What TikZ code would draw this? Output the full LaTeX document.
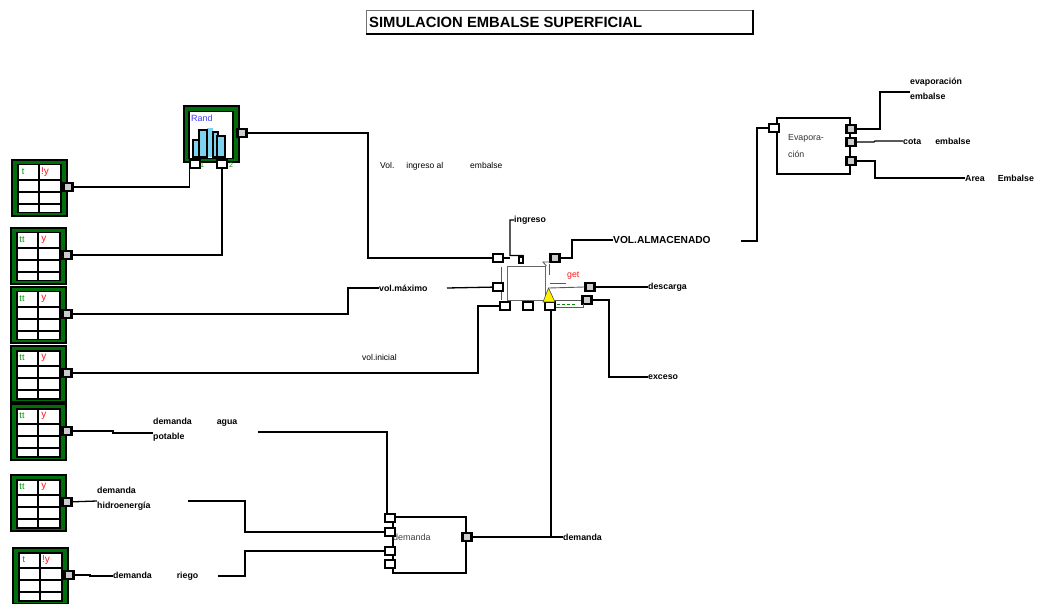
\documentclass[tikz,border=0pt]{standalone}
\usepackage{fontspec}
\setmainfont{Liberation Sans}
\usepackage{xcolor}
\usetikzlibrary{arrows.meta, positioning, calc}
\definecolor{blockgreen}{RGB}{0,110,10}
\definecolor{barblue}{RGB}{125,210,240}
% table block: name, left, top, first and second column heads
\newcommand{\tableblock}[5]{
\node[tabouter, anchor=north west] (#1) at (#2,#3) {};
\node[tabinner, anchor=north west] (#1in) at (#2+6,#3+5) {};
\draw[gridline] (#2+28,#3+5) -- (#2+28,#3+53);
\draw[gridline] (#2+6,#3+21) -- (#2+49,#3+21);
\draw[gridline] (#2+6,#3+33) -- (#2+49,#3+33);
\draw[gridline] (#2+6,#3+45) -- (#2+49,#3+45);
\node[headt] (#1t) at (#2+12,#3+13) {#4};
\node[heady] (#1y) at (#2+34,#3+13) {#5};
\node[outport] (#1out) at (#2+57,#3+28) {};
}
\begin{document}
\begin{tikzpicture}[x=1pt, y=-1pt,
    tabouter/.style={rectangle, draw=black, line width=1.6pt, fill=blockgreen, minimum width=55pt, minimum height=56pt, inner sep=0pt},
    tabinner/.style={rectangle, draw=black, line width=1.5pt, fill=white, minimum width=43pt, minimum height=48pt, inner sep=0pt},
    gridline/.style={black, line width=1.3pt},
    headt/.style={font=\fontsize{9}{9}\selectfont, text=green!60!black, inner sep=0pt},
    heady/.style={font=\fontsize{10}{10}\selectfont, text=red!90!white, inner sep=0pt},
    inport/.style={rectangle, draw=black, line width=1.5pt, fill=white, minimum width=10pt, minimum height=8pt, inner sep=0pt},
    outport/.style={rectangle, draw=black, line width=2.2pt, fill=black!20, minimum width=9pt, minimum height=8pt, inner sep=0pt},
    wire/.style={black, line width=1.3pt},
    thinwire/.style={black!65, line width=0.9pt},
    procbox/.style={rectangle, fill=white, inner sep=0pt, anchor=north west},
    lab/.style={font=\fontsize{8.8}{14.5}\selectfont\bfseries, anchor=west, inner sep=0pt, align=left},
    note/.style={font=\fontsize{8.5}{9}\selectfont, anchor=west, inner sep=0pt, align=left}
]
\useasboundingbox (0,0) rectangle (1037,604);

% title
\node[rectangle, draw=black!55, line width=0.8pt, minimum width=386pt, minimum height=23pt, anchor=north west, inner sep=0pt] (title) at (366,10) {};
\draw[black, line width=1.8pt] (title.north east) -- (title.south east) -- (title.south west);
\node[anchor=west, inner sep=0pt, font=\fontsize{14.8}{15}\selectfont\bfseries] (titletext) at (369,22) {SIMULACION EMBALSE SUPERFICIAL};

% tables on the left
\tableblock{tabA}{11}{159}{t}{!y}
\tableblock{tabB}{10}{227}{tt}{y}
\tableblock{tabC}{10}{286}{tt}{y}
\tableblock{tabD}{10}{345}{tt}{y}
\tableblock{tabE}{10}{403}{tt}{y}
\tableblock{tabF}{10}{474}{tt}{y}
\tableblock{tabG}{12}{547}{t}{!y}

% random block
\node[tabouter, anchor=north west] (rand) at (183,105) {};
\node[rectangle, draw=black, line width=1.5pt, fill=white, minimum width=44pt, minimum height=47pt, inner sep=0pt, anchor=north west] (randin) at (188,111) {};
\fill[barblue] (207,128) rectangle (213,157);
\draw[black, line width=1.2pt, fill=barblue] (193,140) rectangle (199,157);
\draw[black, line width=1.2pt, fill=barblue] (199,130) rectangle (207,157);
\draw[black, line width=1.2pt, fill=barblue] (213,132) rectangle (218,157);
\draw[black, line width=1.2pt, fill=barblue] (217,136) rectangle (225,157);
\node[anchor=west, inner sep=0pt, font=\fontsize{9}{9}\selectfont, text=blue!75!white] (randtext) at (191,118) {Rand};
\node[inport] (randone) at (195,164) {};
\node[inport] (randtwo) at (222,164) {};
\node[outport] (randout) at (242,133) {};
\node[headt, font=\fontsize{7}{7}\selectfont] (randonelab) at (202,165) {1};
\node[headt, font=\fontsize{7}{7}\selectfont] (randtwolab) at (231,165) {2};

% reservoir block
\draw[thinwire] (501,267) -- (501,300);
\node[procbox, draw=black!60, line width=1.4pt, minimum width=38pt, minimum height=34pt] (embalse) at (507,266) {};
\node[inport] (volin) at (498,258) {};
\node[inport] (maxin) at (498,287) {};
\node[inport] (iniin) at (505,306) {};
\node[inport] (midin) at (528,306) {};
\node[inport] (demin) at (550,306) {};
\node[outport] (volout) at (555,258) {};
\node[outport] (desout) at (590,287) {};
\node[outport] (excout) at (587,300) {};
\node[inport, minimum width=4pt, minimum height=6pt] (ingsmall) at (521,260) {};
\draw[thinwire] (embalse.north east) -- (543,262) -- (550,262);
\draw[thinwire] (549,264) -- (549,275);
\draw[thinwire] (550,283) -- (566,283);
\draw[thinwire] (549,288) -- (desout.west);
\draw[thinwire] (553,300) -- (excout.west);
\draw[thinwire] (demin.east |- 0,307) -- (583,307) -- (583,304);
\draw[green!55!black, densely dashed, line width=1pt] (557,305) -- (575,305);
\fill[yellow, draw=black!70, line width=0.6pt] (548.5,288) coordinate (warn) -- (555,302) -- (543,302) -- cycle;
\node[anchor=west, inner sep=0pt, font=\fontsize{8.8}{9}\selectfont, text=red!90!white] (gettext) at (567,276) {get};

% evaporation block
\node[procbox, draw=black, line width=1.6pt, minimum width=73pt, minimum height=56pt] (evap) at (776,117) {};
\node[note, font=\fontsize{8.8}{9}\selectfont, text=black!80] (evaptext) at (788,138) {Evapora-};
\node[note, font=\fontsize{8.8}{9}\selectfont, text=black!80] (evaptextb) at (788,154) {ción};
\node[inport] (evapin) at (774,128) {};
\node[outport] (evapout) at (851,129) {};
\node[outport] (cotaout) at (851,142) {};
\node[outport] (areaout) at (851,161) {};

% demand block
\node[procbox, draw=black, line width=1.6pt, minimum width=73pt, minimum height=56pt] (dem) at (392,516) {};
\node[note, text=black!75, font=\fontsize{9}{9}\selectfont] (demtext) at (393,537) {demanda};
\node[inport] (dema) at (390,518) {};
\node[inport] (demb) at (390,532) {};
\node[inport] (demc) at (390,551) {};
\node[inport] (demd) at (390,564) {};
\node[outport] (demout) at (467,537) {};

% labels
\node[note] (volingtext) at (380,166) {Vol.\hspace{12pt}ingreso al\hspace{27pt}embalse};
\node[note] (volinitext) at (362,357) {vol.inicial};
\node[lab] (ingreso) at (514,220) {ingreso};
\node[lab, font=\fontsize{10.2}{14.5}\selectfont\bfseries] (volalm) at (613,240) {VOL.ALMACENADO};
\node[lab] (descarga) at (648,287) {descarga};
\node[lab] (exceso) at (648,377) {exceso};
\node[lab] (volmax) at (379,288) {vol.máximo};
\node[lab] (demlab) at (563,537) {demanda};
\node[lab, anchor=north west] (agua) at (153,418) {demanda\hspace{25pt}agua\\potable};
\node[lab, anchor=north west] (hidro) at (97,487) {demanda\\hidroenergía};
\node[lab] (riego) at (113,576) {demanda\hspace{25pt}riego};
\node[lab, anchor=north west] (evapo) at (910,78) {evaporación\\embalse};
\node[lab] (cota) at (903,141) {cota\hspace{14pt}embalse};
\node[lab] (area) at (965,178) {Area\hspace{13pt}Embalse};

% free ends
\coordinate (maxend) at (447,288);
\coordinate (aguaend) at (258,432);
\coordinate (hidroend) at (188,501);
\coordinate (riegoend) at (218,576);
\coordinate (volend) at (741,241);

% wires
\draw[wire] (tabAout) -| (randone.west);
\draw[wire] (tabBout) -| (randtwo);
\draw[wire] (randout) -- (368,133) |- (volin);
\draw[wire] (tabCout) -- (348,314) |- (volmax.west);
\draw[wire] (maxend) -- (maxin);
\draw[wire] (tabDout) -- (478,373) |- (iniin);
\draw[wire] (tabEout) -- (113,431) -- (113,433) -- (agua.west |- 0,433);
\draw[wire] (aguaend) -- (387,432) -- (dema.north -| 387,0);
\draw[wire] (tabFout) -- (hidro.west |- 0,501);
\draw[wire] (hidroend) -- (245,501) |- (demb);
\draw[wire] (tabGout) -- (90,575) -- (90,576) -- (riego.west);
\draw[wire] (riegoend) -- (245,576) |- (demc);
\draw[wire] (demout) -- (demlab.west);
\draw[wire] (551,537) -- (demin.south -| 551,0);
\draw[wire] (ingreso.west) -- (510,220) -- (510,255.5) -- (523,255.5) -- (ingsmall.north east);
\draw[wire] (volin) -- (510,258);
\draw[wire] (volout) -- (572,258) |- (volalm.west);
\draw[wire] (desout) -- (descarga.west);
\draw[wire] (excout) -- (609,300) |- (exceso.west);
\draw[wire] (volend) -- (757,241) |- (evapin);
\draw[wire] (evapout) -- (880,129) |- (evapo.west |- 0,92);
\draw[wire] (cotaout) -- (874,142) -- (875,141) -- (cota.west);
\draw[wire] (areaout) -- (875,161) |- (area.west);
\end{tikzpicture}
\end{document}
